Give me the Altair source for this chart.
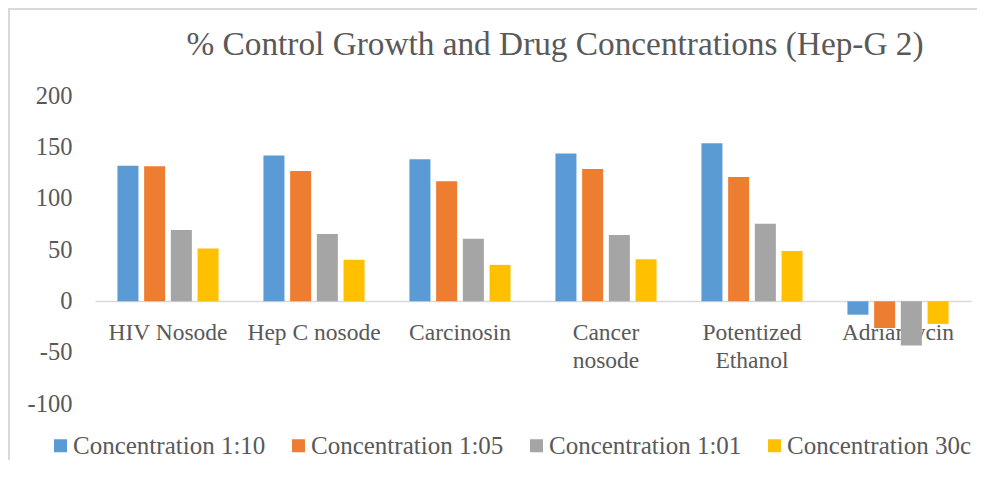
import altair as alt
import pandas as pd

categories = ["HIV Nosode", "Hep C nosode", "Carcinosin", "Cancer nosode", "Potentized Ethanol", "Adriamycin"]
series = ["Concentration 1:10", "Concentration 1:05", "Concentration 1:01", "Concentration 30c"]
conc_1_10 = [132, 142, 138.5, 144, 154, -13]
conc_1_05 = [131.5, 127, 117, 129, 121, -26]
conc_1_01 = [69.5, 65.5, 61, 64.5, 75.5, -43]
conc_30c = [51.5, 40.5, 35.5, 41, 49, -22]
colors = ["#5B9BD5", "#ED7D31", "#A5A5A5", "#FFC000"]
y_ticks = [-100, -50, 0, 50, 100, 150, 200]
title_text = "% Control Growth and Drug Concentrations (Hep-G 2)"

rows = []
for s, vals in zip(series, [conc_1_10, conc_1_05, conc_1_01, conc_30c]):
    for c, v in zip(categories, vals):
        rows.append({"category": c, "series": s, "value": v})
df = pd.DataFrame(rows)

FONT = "Liberation Serif"
TEXT = "#595959"
W, H = 876, 308
PAD = {"left": 87, "top": 88, "right": 6, "bottom": 56}

one = alt.Data(values=[{"a": 1}])
frame_left = alt.Chart(one).mark_rule(color="#d9d9d9", strokeWidth=2, clip=False).encode(
    x=alt.value(-PAD["left"] + 1), y=alt.value(-PAD["top"]), y2=alt.value(H + PAD["bottom"])
)
frame_top = alt.Chart(one).mark_rule(color="#d9d9d9", strokeWidth=2, clip=False).encode(
    x=alt.value(-PAD["left"]), x2=alt.value(W + PAD["right"]), y=alt.value(-PAD["top"] + 1)
)

label_expr = ("(datum.label == 'Cancer nosode' || datum.label == 'Potentized Ethanol') "
              "? split(datum.label, ' ') : datum.label")

bars = alt.Chart(df).mark_bar().encode(
    x=alt.X("category:N", sort=categories,
            scale=alt.Scale(paddingInner=0, paddingOuter=0),
            axis=alt.Axis(title=None, orient="bottom", offset=-103,
                          domainColor="#d9d9d9", domainWidth=1.5,
                          ticks=False, tickSize=0, labelAngle=0,
                          labelFont=FONT, labelFontSize=23.5, labelColor=TEXT,
                          labelPadding=38.5, labelBaseline="alphabetic",
                          labelLineHeight=27.5, labelLimit=0, labelOverlap=False,
                          labelExpr=label_expr)),
    xOffset=alt.XOffset("series:N", sort=series,
                        scale=alt.Scale(paddingInner=0.213, paddingOuter=0.84)),
    y=alt.Y("value:Q", scale=alt.Scale(domain=[-100, 200], nice=False, zero=False),
            axis=alt.Axis(values=y_ticks, title=None, domain=False, ticks=False,
                          tickSize=0, grid=False, labelFont=FONT, labelFontSize=24.5,
                          labelColor=TEXT, labelPadding=23, labelOverlap=False,
                          labelExpr="toString(datum.value)")),
    color=alt.Color("series:N", sort=series,
                    scale=alt.Scale(domain=series, range=colors),
                    legend=alt.Legend(title=None, orient="none", legendX=-47, legendY=337,
                                      direction="horizontal", columns=4,
                                      symbolType="square", symbolSize=169,
                                      symbolStrokeWidth=0, labelFont=FONT,
                                      labelFontSize=25, labelColor=TEXT, labelOffset=0,
                                      columnPadding=20, labelLimit=0, padding=0)),
)

chart = alt.layer(frame_left, frame_top, bars).properties(
    width=W, height=H, background="white",
    title=alt.TitleParams(text=title_text, font=FONT, fontSize=33.3, color=TEXT,
                          fontWeight="normal", anchor="middle", dx=22, dy=81,
                          baseline="alphabetic", offset=0),
    autosize=alt.AutoSizeParams(type="none"),
    padding=PAD,
).configure_view(stroke=None, strokeWidth=0)

chart.save("out.html", embed_options={"renderer": "svg", "actions": False})
